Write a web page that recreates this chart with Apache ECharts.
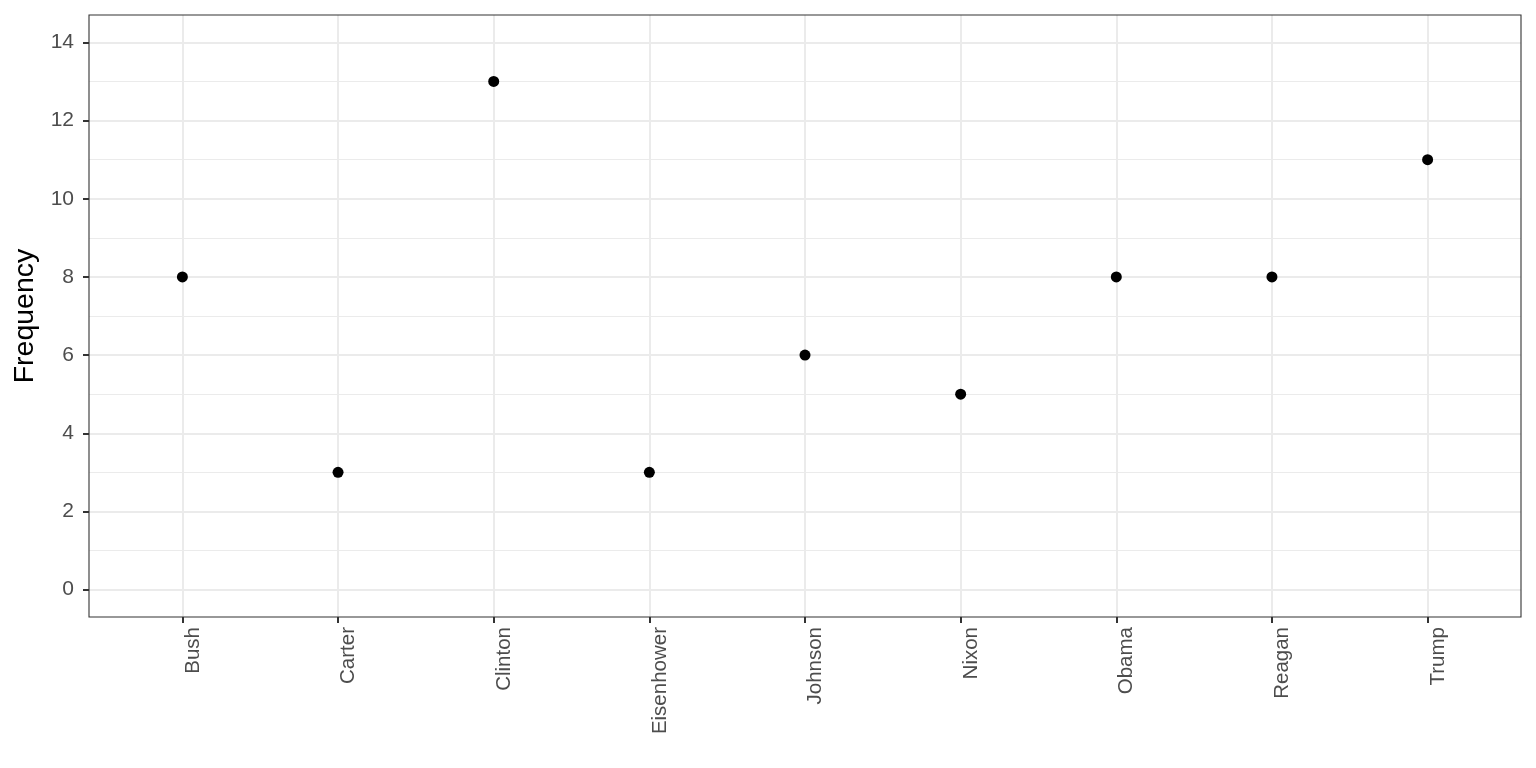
<!DOCTYPE html>
<html>
<head>
<meta charset="utf-8">
<script src="https://cdn.jsdelivr.net/npm/echarts@6/dist/echarts.min.js"></script>
<style>html,body{margin:0;padding:0;background:#fff}#c{width:1536px;height:768px}</style>
</head>
<body>
<div id="c"></div>
<script>
const categories = ["Bush","Carter","Clinton","Eisenhower","Johnson","Nixon","Obama","Reagan","Trump"];
const frequency = [8,3,13,3,6,5,8,8,11];
const yMajorTicks = [0,2,4,6,8,10,12,14];
const yMinorTicks = [1,3,5,7,9,11,13];

const xPositions = categories.map((_, i) => i + 1);
const points = categories.map((c, i) => [i + 1, frequency[i]]);

const chart = echarts.init(document.getElementById('c'), null, {renderer: 'canvas'});
const fontFamily = 'Liberation Sans, Arial, sans-serif';
chart.setOption({
  animation: false,
  backgroundColor: '#ffffff',
  grid: {left: 89, right: 15, top: 15, bottom: 151, show: true, borderColor: '#333333', borderWidth: 1.1, backgroundColor: 'transparent', z: 10},
  xAxis: {
    type: 'value', min: 0.4, max: 9.6,
    axisLine: {show: false, onZero: false},
    axisTick: {show: true, length: 6, lineStyle: {color: '#333333', width: 2}, customValues: xPositions},
    axisLabel: {
      show: true, rotate: 90, margin: 10, color: '#4D4D4D', fontSize: 20.5, fontFamily: fontFamily,
      verticalAlign: 'top',
      customValues: xPositions,
      formatter: v => categories[Math.round(v) - 1] || ''
    },
    splitLine: {show: true, lineStyle: {color: '#EBEBEB', width: 2}}
  },
  yAxis: [{
    type: 'value', min: -0.7, max: 14.7,
    axisLine: {show: false, onZero: false},
    axisTick: {show: true, length: 6, lineStyle: {color: '#333333', width: 2}, customValues: yMajorTicks},
    axisLabel: {show: true, margin: 15, color: '#4D4D4D', fontSize: 21, fontFamily: fontFamily, customValues: yMajorTicks},
    splitLine: {show: true, lineStyle: {color: '#EBEBEB', width: 2}},
    name: 'Frequency', nameLocation: 'middle', nameGap: 46, nameRotate: 90,
    nameTextStyle: {color: '#000000', fontSize: 28.5, fontFamily: fontFamily}
  }, {
    type: 'value', min: -0.7, max: 14.7, position: 'left',
    axisLine: {show: false, onZero: false},
    axisTick: {show: false, customValues: yMinorTicks},
    axisLabel: {show: false, customValues: yMinorTicks},
    splitLine: {show: true, lineStyle: {color: '#EBEBEB', width: 1}}
  }],
  series: [{
    type: 'scatter', data: points, symbol: 'circle', symbolSize: 11,
    itemStyle: {color: '#000000', opacity: 1}, z: 5
  }]
});
</script>
</body>
</html>
